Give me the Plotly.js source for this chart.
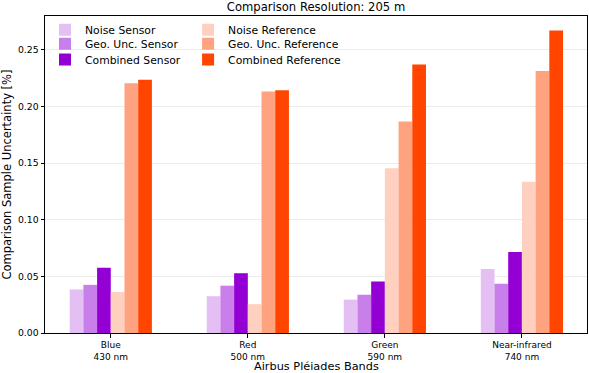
<!DOCTYPE html>
<html><head><meta charset="utf-8">
<script src="https://cdn.plot.ly/plotly-3.0.1.min.js"></script>
<style>html,body{margin:0;padding:0;background:#fff}#chart{width:589px;height:373px}</style>
</head><body><div id="chart"></div>
<script>
const bands = ["Blue<br>430 nm", "Red<br>500 nm", "Green<br>590 nm", "Near-infrared<br>740 nm"];
const seriesNames = ["Noise Sensor", "Geo. Unc. Sensor", "Combined Sensor", "Noise Reference", "Geo. Unc. Reference", "Combined Reference"];
const noiseSensor = [0.0385, 0.0325, 0.0295, 0.0565];
const geoSensor = [0.0425, 0.0418, 0.0338, 0.0435];
const combinedSensor = [0.0577, 0.0528, 0.0455, 0.0715];
const noiseRef = [0.0363, 0.0255, 0.1455, 0.1335];
const geoRef = [0.2205, 0.2133, 0.1868, 0.2315];
const combinedRef = [0.2237, 0.2145, 0.2372, 0.2672];
const yTicks = [0, 0.05, 0.10, 0.15, 0.20, 0.25];
const xTitle = "Airbus Pléiades Bands";

const colors = ["#e4bff4", "#c97fe9", "#9400d3", "#ffd0bf", "#ffa27f", "#ff4500"];
const values = [noiseSensor, geoSensor, combinedSensor, noiseRef, geoRef, combinedRef];
const font = "DejaVu Sans, sans-serif";

// one legend per entry, so the two-column legend can be spaced like the reference
const legendIds = ["legend", "legend2", "legend3", "legend4", "legend5", "legend6"];
const rowY = [1.0027, 0.958, 0.9085];
const colX = [0.0, 0.264];

const traces = values.map((v, i) => ({
  type: "bar",
  x: bands,
  y: v,
  name: seriesNames[i],
  marker: {color: colors[i], line: {width: 0}},
  legend: legendIds[i],
  hoverinfo: "y+name"
}));

const layout = {
  width: 589, height: 373,
  margin: {l: 45, r: 2, t: 16, b: 40},
  paper_bgcolor: "#fff", plot_bgcolor: "#fff",
  barmode: "group", bargap: 0.4, bargroupgap: 0,
  font: {family: font, color: "#000"},
  title: {text: "Comparison Resolution: 205 m", font: {family: font, size: 11.6, color: "#000"},
          x: 0.5, xref: "paper", xanchor: "center", y: 0.981, yref: "container", yanchor: "middle"},
  xaxis: {
    type: "category",
    range: [-0.48, 3.475],
    showline: true, mirror: true, linecolor: "#000", linewidth: 1,
    ticks: "outside", ticklen: 3.5, tickcolor: "#000",
    showgrid: false,
    tickfont: {family: font, size: 9, color: "#000"}
  },
  yaxis: {
    range: [0, 0.28],
    tickvals: yTicks, tickformat: ".2f",
    showline: true, mirror: true, linecolor: "#000", linewidth: 1,
    ticks: "outside", ticklen: 3.5, tickcolor: "#000",
    showgrid: true, gridcolor: "#ececec", gridwidth: 1,
    zeroline: false,
    tickfont: {family: font, size: 9.3, color: "#000"},
    title: {text: "Comparison Sample Uncertainty [%]", font: {family: font, size: 11.5, color: "#000"}, standoff: 6}
  },
  annotations: [{
    text: xTitle, xref: "paper", yref: "paper", x: 0.5, y: -0.1055,
    xanchor: "center", yanchor: "middle", showarrow: false, borderpad: 0,
    font: {family: font, size: 11.3, color: "#000"}
  }],
  showlegend: true
};

legendIds.forEach((id, i) => {
  layout[id] = {
    bgcolor: "rgba(0,0,0,0)",
    borderwidth: 0,
    font: {family: font, size: 10.8, color: "#000"},
    xanchor: "left", yanchor: "top",
    x: colX[Math.floor(i / 3)],
    y: rowY[i % 3]
  };
});

Plotly.newPlot("chart", traces, layout, {displayModeBar: false, staticPlot: true});
</script>
</body></html>
